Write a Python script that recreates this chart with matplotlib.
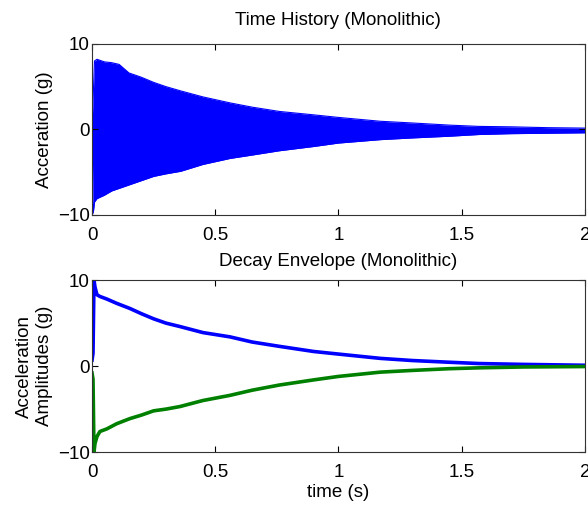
import numpy as np
import matplotlib.pyplot as plt

plt.rcParams['font.family'] = ['Liberation Sans', 'DejaVu Sans']
plt.rcParams['font.size'] = 13.5

# envelope of the time history
t_hist = [0.0, 0.005, 0.01, 0.02, 0.05, 0.08, 0.11, 0.15, 0.2, 0.25, 0.3, 0.36, 0.45, 0.56,
          0.65, 0.76, 0.9, 1.0, 1.17, 1.3, 1.45, 1.57, 1.7, 1.85, 2.0]
hist_upper = [0.5, 4.0, 8.0, 8.2, 7.9, 7.8, 7.6, 6.6, 6.1, 5.5, 5.0, 4.5, 3.8, 3.1,
              2.6, 2.1, 1.7, 1.4, 0.95, 0.75, 0.5, 0.35, 0.3, 0.2, 0.15]
hist_lower = [-0.5, -9.8, -8.5, -8.1, -7.7, -7.2, -6.9, -6.5, -6.0, -5.5, -5.2, -4.9, -4.1, -3.4,
              -3.0, -2.5, -2.0, -1.6, -1.2, -1.0, -0.8, -0.6, -0.5, -0.45, -0.4]

# decay envelope
t_env = [0.0, 0.004, 0.008, 0.012, 0.02, 0.032, 0.06, 0.1, 0.154, 0.2, 0.25, 0.3, 0.357, 0.45,
         0.56, 0.65, 0.76, 0.9, 1.0, 1.17, 1.3, 1.45, 1.57, 1.75, 2.0]
env_upper = [0.7, 1.5, 10.0, 9.2, 8.3, 8.1, 7.8, 7.3, 6.7, 6.1, 5.5, 5.0, 4.6, 3.9,
             3.4, 2.8, 2.3, 1.7, 1.4, 0.9, 0.65, 0.45, 0.3, 0.2, 0.1]
env_lower = [-0.8, -1.5, -10.0, -9.0, -8.2, -7.6, -7.3, -6.7, -6.1, -5.7, -5.2, -5.0, -4.7, -4.0,
             -3.4, -2.8, -2.2, -1.6, -1.2, -0.7, -0.5, -0.3, -0.2, -0.1, -0.05]

fig = plt.figure(figsize=(5.88, 5.08), dpi=100)
ax1 = fig.add_axes([0.1565, 0.577, 0.838, 0.3366])
ax2 = fig.add_axes([0.1565, 0.110, 0.838, 0.3386])

ax1.fill_between(t_hist, hist_lower, hist_upper, color='#0000ff', lw=0)
ax1.plot(t_hist, hist_upper, color='#0000ff', lw=0.8)
ax1.plot(t_hist, hist_lower, color='#0000ff', lw=0.8)
ax1.set_title('Time History (Monolithic)', fontsize=13.5, pad=13.5)
ax1.set_ylabel('Acceration (g)', fontsize=13.5, labelpad=4)

ax2.plot(t_env, env_upper, color='#0000ff', lw=2.6)
ax2.plot(t_env, env_lower, color='#008000', lw=2.6)
ax2.set_title('Decay Envelope (Monolithic)', fontsize=13.5, pad=10)
ax2.set_ylabel('Acceleration\nAmplitudes (g)', fontsize=13.5, labelpad=4, linespacing=1.2)
ax2.set_xlabel('time (s)', fontsize=13.5, labelpad=2.5)

for ax in (ax1, ax2):
    ax.set_xlim(0, 2)
    ax.set_ylim(-10, 10)
    ax.set_xticks([0, 0.5, 1, 1.5, 2])
    ax.set_xticklabels(['0', '0.5', '1', '1.5', '2'])
    ax.set_yticks([-10, 0, 10])
    ax.tick_params(direction='in', top=True, right=True, length=4, width=0.8,
                   labelsize=13.5)
    ax.tick_params(axis='x', pad=8.5)
    ax.tick_params(axis='y', pad=1.5)
    for s in ax.spines.values():
        s.set_linewidth(0.8)
        s.set_color('#333333')

fig.savefig('out.png', dpi=100)
